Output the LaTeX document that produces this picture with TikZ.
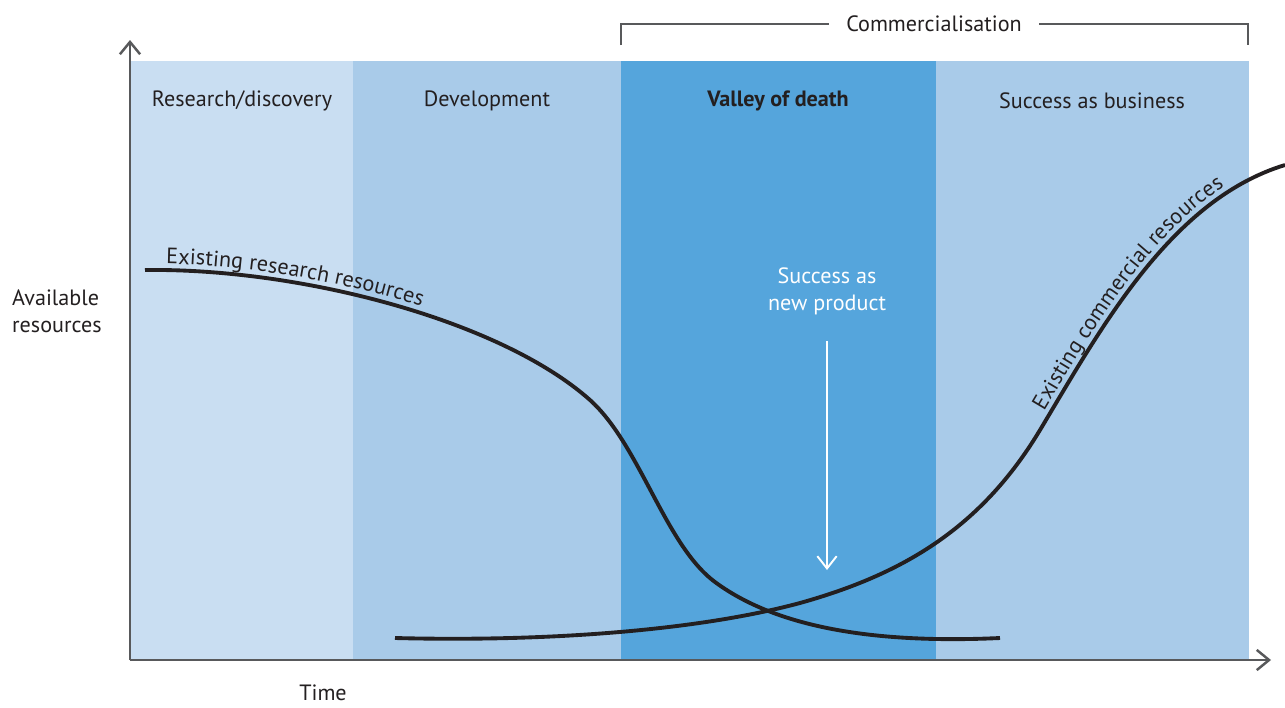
\documentclass[tikz,border=0pt]{standalone}
\usepackage{fontspec}
\setmainfont{PT Sans}
\usetikzlibrary{arrows.meta,decorations.text}
\definecolor{ink}{HTML}{231F20}
\definecolor{axisgray}{HTML}{58595B}
\definecolor{research}{HTML}{C9DEF2}
\definecolor{develop}{HTML}{A9CBE9}
\definecolor{valley}{HTML}{55A5DC}
\newcommand\labelfont{\fontsize{12.6}{15.5}\selectfont}
\tikzset{
  band/.style={draw=none},
  axis/.style={draw=axisgray, line width=1.4pt, -{Straight Barb[length=7pt,width=11.5pt]}},
  bracket/.style={draw=axisgray, line width=0.9pt},
  phase/.style={text=ink, font=\labelfont},
  resource/.style={draw=ink, line width=2.2pt},
  curvelabel/.style={postaction={decorate, decoration={text along path, text color=ink, raise=3.5pt, #1}}}
}
\begin{document}
\begin{tikzpicture}[x=0.02cm, y=-0.02cm]
\useasboundingbox (0,0) rectangle (1285,707);
\fill[band, research] (131,61) rectangle (353,660);
\fill[band, develop] (353,61) rectangle (621,660);
\fill[band, valley] (621,61) rectangle (936,660);
\fill[band, develop] (936,61) rectangle (1249,660);
\node[phase] (research) at (242,101) {Research/discovery};
\node[phase] (develop) at (487,101) {Development};
\node[phase, font=\labelfont\bfseries] (valley) at (778,101) {Valley of death};
\node[phase] (business) at (1092,101) {Success as business};
\draw[bracket] (621,45) |- (1248,24) -- (1248,45);
\node[phase, fill=white, inner xsep=10pt] (comm) at (934,24) {Commercialisation};
\coordinate (origin) at (130,660);
\coordinate (ytip) at (130,40);
\coordinate (xtip) at (1271,660);
\draw[axis] (origin) -- (ytip);
\draw[axis] (origin) -- (xtip);
\node[phase, align=left, anchor=west] (avail) at (6,311) {Available\\resources};
\node[phase] (time) at (323,693) {Time};
\node[phase, text=white, align=center] (product) at (827,291) {Success as\\new product};
\coordinate (launch) at (827,570);
\draw[white, line width=1.1pt, -{Straight Barb[length=7pt,width=11pt]}] (product.south) ++(0,20) -- (launch);
\draw[resource, curvelabel={text={|\labelfont|Existing research resources}, text align={left indent=12pt}}]
  (145,270) .. controls (300,268) and (500,320) .. (590,400)
  .. controls (640,445) and (665,545) .. (715,582)
  .. controls (765,619) and (850,645) .. (1000,638);
\draw[resource, curvelabel={text={|\labelfont|Existing commercial resources}, text align={align=right, right indent=36pt}}]
  (395,638) .. controls (550,642) and (700,630) .. (800,603)
  .. controls (900,575) and (980,530) .. (1040,430)
  .. controls (1100,330) and (1170,200) .. (1285,165);
\end{tikzpicture}
\end{document}
